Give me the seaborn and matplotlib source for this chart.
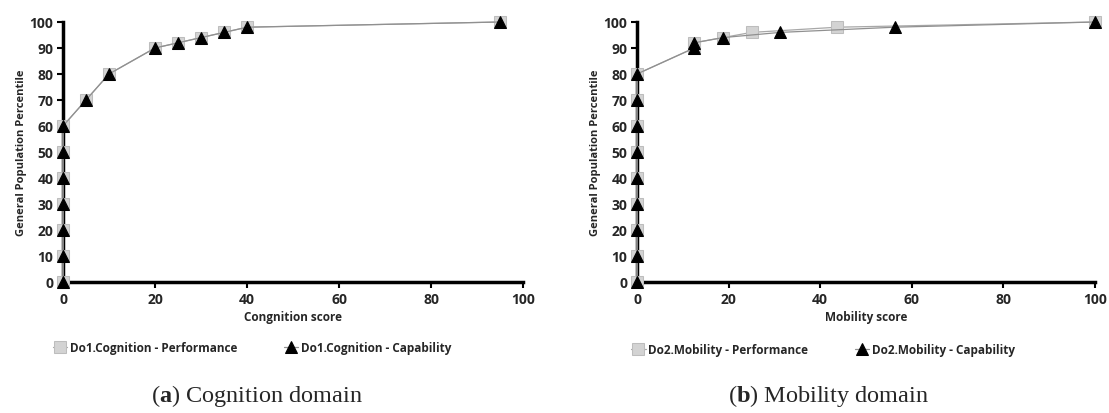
import matplotlib
matplotlib.use("Agg")
import matplotlib.pyplot as plt
import seaborn as sns
import pandas as pd

# panel (a) cognition
cog_perf_x = [0, 0, 0, 0, 0, 0, 0, 5, 10, 20, 25, 30, 35, 40, 95]
cog_perf_y = [0, 10, 20, 30, 40, 50, 60, 70, 80, 90, 92, 94, 96, 98, 100]
cog_cap_x = [0, 0, 0, 0, 0, 0, 0, 5, 10, 20, 25, 30, 35, 40, 95]
cog_cap_y = [0, 10, 20, 30, 40, 50, 60, 70, 80, 90, 92, 94, 96, 98, 100]

# panel (b) mobility
mob_perf_x = [0, 0, 0, 0, 0, 0, 0, 0, 0, 12.5, 12.5, 18.75, 25, 43.75, 100]
mob_perf_y = [0, 10, 20, 30, 40, 50, 60, 70, 80, 90, 92, 94, 96, 98, 100]
mob_cap_x = [0, 0, 0, 0, 0, 0, 0, 0, 0, 12.5, 12.5, 18.75, 31.25, 56.25, 100]
mob_cap_y = [0, 10, 20, 30, 40, 50, 60, 70, 80, 90, 92, 94, 96, 98, 100]

panels = [
    ("Congnition score", "Do1.Cognition", "a", "Cognition domain",
     cog_perf_x, cog_perf_y, cog_cap_x, cog_cap_y),
    ("Mobility score", "Do2.Mobility", "b", "Mobility domain",
     mob_perf_x, mob_perf_y, mob_cap_x, mob_cap_y),
]

sns.set_style("white")
plt.rcParams["font.family"] = ["Open Sans", "DejaVu Sans"]
plt.rcParams["mathtext.fontset"] = "custom"
plt.rcParams["mathtext.rm"] = "Liberation Serif"
plt.rcParams["mathtext.bf"] = "Liberation Serif:bold"

fig = plt.figure(figsize=(11.09, 4.14), dpi=100)
W, H = 1109, 414
# axes boxes in pixels: left, right, top, bottom
boxes = [(63, 523, 23, 283), (637, 1095, 23, 283)]
legend_pos = [(252, 349), (823, 351)]
caption_pos = [(257, 396), (828, 396)]

for i, (xlab, name, letter, cap, px, py, cx, cy) in enumerate(panels):
    l, r, t, b = boxes[i]
    ax = fig.add_axes([l / W, 1 - b / H, (r - l) / W, (b - t) / H])
    perf = pd.DataFrame({"x": px, "y": py})
    capb = pd.DataFrame({"x": cx, "y": cy})
    sns.lineplot(data=perf, x="x", y="y", sort=False, estimator=None, ax=ax,
                 color="#a8a8a8", lw=0.9, marker="s", markersize=8,
                 markerfacecolor="#d3d3d3", markeredgecolor="#bdbdbd",
                 label=f"{name} - Performance", zorder=3)
    sns.lineplot(data=capb, x="x", y="y", sort=False, estimator=None, ax=ax,
                 color="#909090", lw=0.9, marker="^", markersize=9,
                 markerfacecolor="black", markeredgecolor="black",
                 label=f"{name} - Capability", zorder=4)
    ax.set_xlim(0, 100)
    ax.set_ylim(0, 100)
    ax.set_xticks(range(0, 101, 20))
    ax.set_yticks(range(0, 101, 10))
    for s in ["top", "right"]:
        ax.spines[s].set_visible(False)
    for s in ["left", "bottom"]:
        ax.spines[s].set_linewidth(2.5)
        ax.spines[s].set_color("black")
    ax.tick_params(axis="both", which="major", labelsize=10, length=4, width=1.5,
                   color="black", direction="out", bottom=True, left=True, pad=3)
    for lab in ax.get_xticklabels() + ax.get_yticklabels():
        lab.set_fontweight("bold")
    ax.set_xlabel(xlab, fontsize=8.5, fontweight="bold", labelpad=3)
    ax.set_ylabel("General Population Percentile", fontsize=8,
                  fontweight="bold", labelpad=2)
    for ln in ax.lines:
        ln.set_clip_on(False)

    handles, labels = ax.get_legend_handles_labels()
    ax.legend_.remove()
    lx, ly = legend_pos[i]
    fig.legend(handles, labels, loc="center", bbox_to_anchor=(lx / W, 1 - ly / H),
               ncol=2, frameon=False, handlelength=1.2, handletextpad=0.2,
               columnspacing=4.0, prop={"size": 8.5, "weight": "bold"})

    cxp, cyp = caption_pos[i]
    fig.text(cxp / W, 1 - cyp / H, r"($\mathbf{" + letter + r"}$) " + cap,
             ha="center", va="center", fontsize=17.5, family="Liberation Serif")

fig.savefig("out.png", dpi=100)
